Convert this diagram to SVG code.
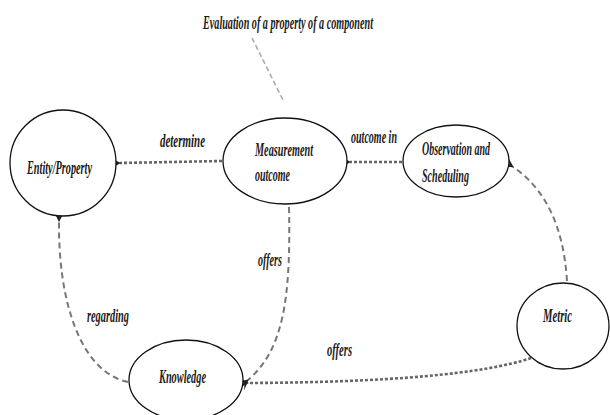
<svg xmlns="http://www.w3.org/2000/svg" width="610" height="415" viewBox="0 0 610 415">
<style>
.node{fill:#fff;stroke:#111;stroke-width:1.3}
.t{font-family:"Liberation Serif",serif;font-style:italic;font-weight:bold;font-size:18px;fill:#1a1a1a}
.dot{fill:none;stroke:#666;stroke-width:2.6;stroke-dasharray:3 2}
.dash{fill:none;stroke:#777;stroke-width:2;stroke-dasharray:6 4}
.lead{fill:none;stroke:#aaa;stroke-width:1.6;stroke-dasharray:5 3}
</style>
<defs>
<marker id="ah" viewBox="0 0 10 10" refX="1" refY="5" markerWidth="11" markerHeight="11" orient="auto" markerUnits="userSpaceOnUse">
<path d="M10,0 L0,5 L10,10 L5,5 Z" fill="#222"/>
</marker>
</defs>
<rect width="610" height="415" fill="#fff"/>
<g id="connectors">
<path class="lead" d="M252,38 L283,100"/>
<path class="dot" d="M222,161 L120,163" marker-end="url(#ah)"/>
<path class="dot" d="M402,162 L350,162" marker-end="url(#ah)"/>
<path class="dash" d="M567,281 Q562,200 513,167" marker-end="url(#ah)"/>
<path class="dash" d="M289,207 C291,300 283,350 248,380" marker-end="url(#ah)"/>
<path class="dash" d="M128,382 C80,372 58,300 59,221" marker-end="url(#ah)"/>
<path class="dot" d="M531,358 Q460,382 248,383" marker-end="url(#ah)"/>
<text class="t" x="160" y="147" textLength="45" lengthAdjust="spacingAndGlyphs">determine</text>
<text class="t" x="351" y="143" textLength="46" lengthAdjust="spacingAndGlyphs">outcome in</text>
<text class="t" x="258" y="266" textLength="24" lengthAdjust="spacingAndGlyphs">offers</text>
<text class="t" x="87" y="322" textLength="42" lengthAdjust="spacingAndGlyphs">regarding</text>
<text class="t" x="327" y="356" textLength="25" lengthAdjust="spacingAndGlyphs">offers</text>
</g>
<g id="title">
<text class="t" x="203" y="29" textLength="170" lengthAdjust="spacingAndGlyphs">Evaluation of a property of a component</text>
</g>
<g id="entity">
<ellipse class="node" cx="63" cy="163" rx="53" ry="53"/>
<text class="t" x="27" y="174" textLength="65" lengthAdjust="spacingAndGlyphs">Entity/Property</text>
</g>
<g id="measurement">
<ellipse class="node" cx="285" cy="161" rx="62" ry="43"/>
<text class="t" x="255" y="156" textLength="58" lengthAdjust="spacingAndGlyphs">Measurement</text>
<text class="t" x="255" y="181" textLength="35" lengthAdjust="spacingAndGlyphs">outcome</text>
</g>
<g id="observation">
<ellipse class="node" cx="456" cy="161" rx="53" ry="36"/>
<text class="t" x="422" y="155" textLength="68" lengthAdjust="spacingAndGlyphs">Observation and</text>
<text class="t" x="422" y="182" textLength="47" lengthAdjust="spacingAndGlyphs">Scheduling</text>
</g>
<g id="metric">
<ellipse class="node" cx="563" cy="326" rx="46" ry="43"/>
<text class="t" x="543" y="322" textLength="29" lengthAdjust="spacingAndGlyphs">Metric</text>
</g>
<g id="knowledge">
<ellipse class="node" cx="186" cy="380" rx="57" ry="40"/>
<text class="t" x="159" y="383" textLength="47" lengthAdjust="spacingAndGlyphs">Knowledge</text>
</g>
</svg>
